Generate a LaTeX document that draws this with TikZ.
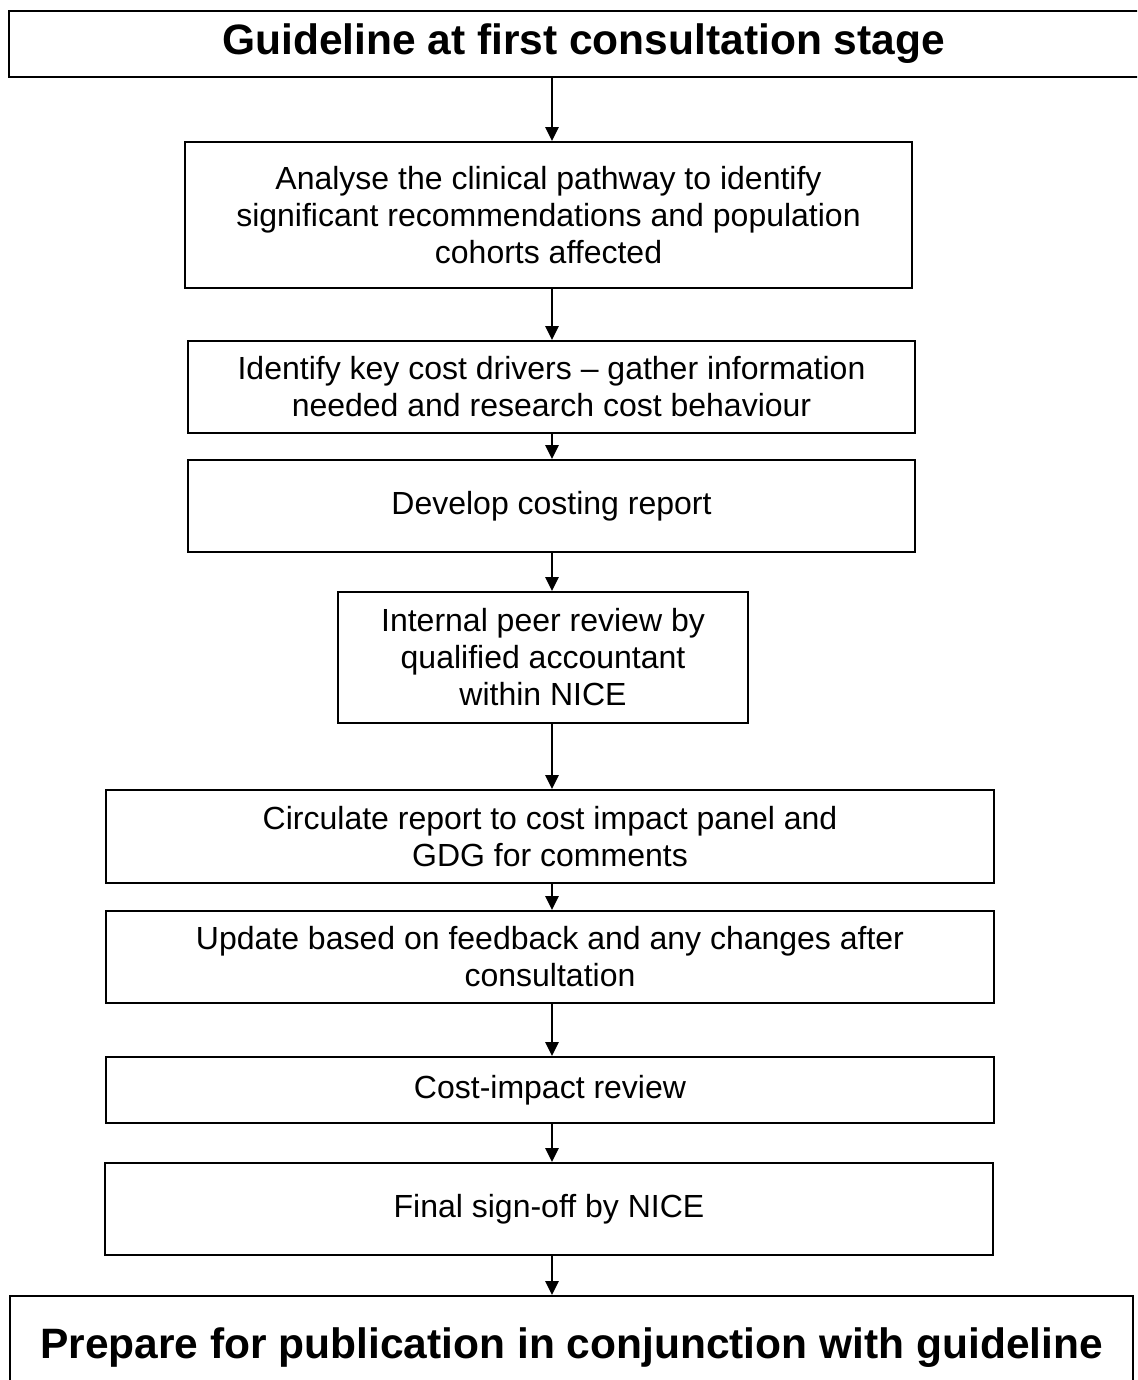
\documentclass[tikz,border=0pt]{standalone}
\usepackage{fontspec}
\setmainfont{Liberation Sans}
\usetikzlibrary{arrows.meta}

\begin{document}
\begin{tikzpicture}[x=0.5pt,y=-0.5pt,
  box/.style={draw,line width=0.9pt,align=center,inner sep=0pt,
    font=\fontsize{16}{18.5}\selectfont},
  headbox/.style={draw,line width=0.9pt,align=center,inner sep=0pt,
    font=\fontsize{21.25}{25}\selectfont\bfseries},
  flow/.style={line width=1.2pt,-{Triangle[length=7pt,width=6.5pt]}}]
\clip (0,0) rectangle (1137,1380);
\node[headbox,minimum width=574.5pt,minimum height=33pt] (guide) at (583.5,44) {Guideline at first consultation stage};
\node[box,minimum width=363.5pt,minimum height=73pt] (analyse) at (548.5,215) {Analyse the clinical pathway to identify\\significant recommendations and population\\cohorts affected};
\node[box,minimum width=363.5pt,minimum height=46pt] (drivers) at (551.5,387) {Identify key cost drivers – gather information\\needed and research cost behaviour};
\node[box,minimum width=363.5pt,minimum height=46pt] (report) at (551.5,506) {Develop costing report};
\node[box,minimum width=205pt,minimum height=65.5pt] (peer) at (543,657.5) {Internal peer review by\\qualified accountant\\within NICE};
\node[box,minimum width=444pt,minimum height=46.5pt] (circulate) at (550,836.5) {Circulate report to cost impact panel and\\GDG for comments};
\node[box,minimum width=444pt,minimum height=46pt] (update) at (550,957) {Update based on feedback and any changes after\\consultation};
\node[box,minimum width=444pt,minimum height=33pt] (review) at (550,1090) {Cost-impact review};
\node[box,minimum width=444pt,minimum height=46pt] (signoff) at (549,1209) {Final sign-off by NICE};
\node[headbox,minimum width=561.5pt,minimum height=52pt] (publish) at (571.5,1348) {Prepare for publication in conjunction with guideline};
% arrows all run down one line
\coordinate (ax) at (552,0);
\draw[flow] (guide.south -| ax) -- (analyse.north -| ax);
\draw[flow] (analyse.south -| ax) -- (drivers.north -| ax);
\draw[flow] (drivers.south -| ax) -- (report.north -| ax);
\draw[flow] (report.south -| ax) -- (peer.north -| ax);
\draw[flow] (peer.south -| ax) -- (circulate.north -| ax);
\draw[flow] (circulate.south -| ax) -- (update.north -| ax);
\draw[flow] (update.south -| ax) -- (review.north -| ax);
\draw[flow] (review.south -| ax) -- (signoff.north -| ax);
\draw[flow] (signoff.south -| ax) -- (publish.north -| ax);
\end{tikzpicture}
\end{document}
